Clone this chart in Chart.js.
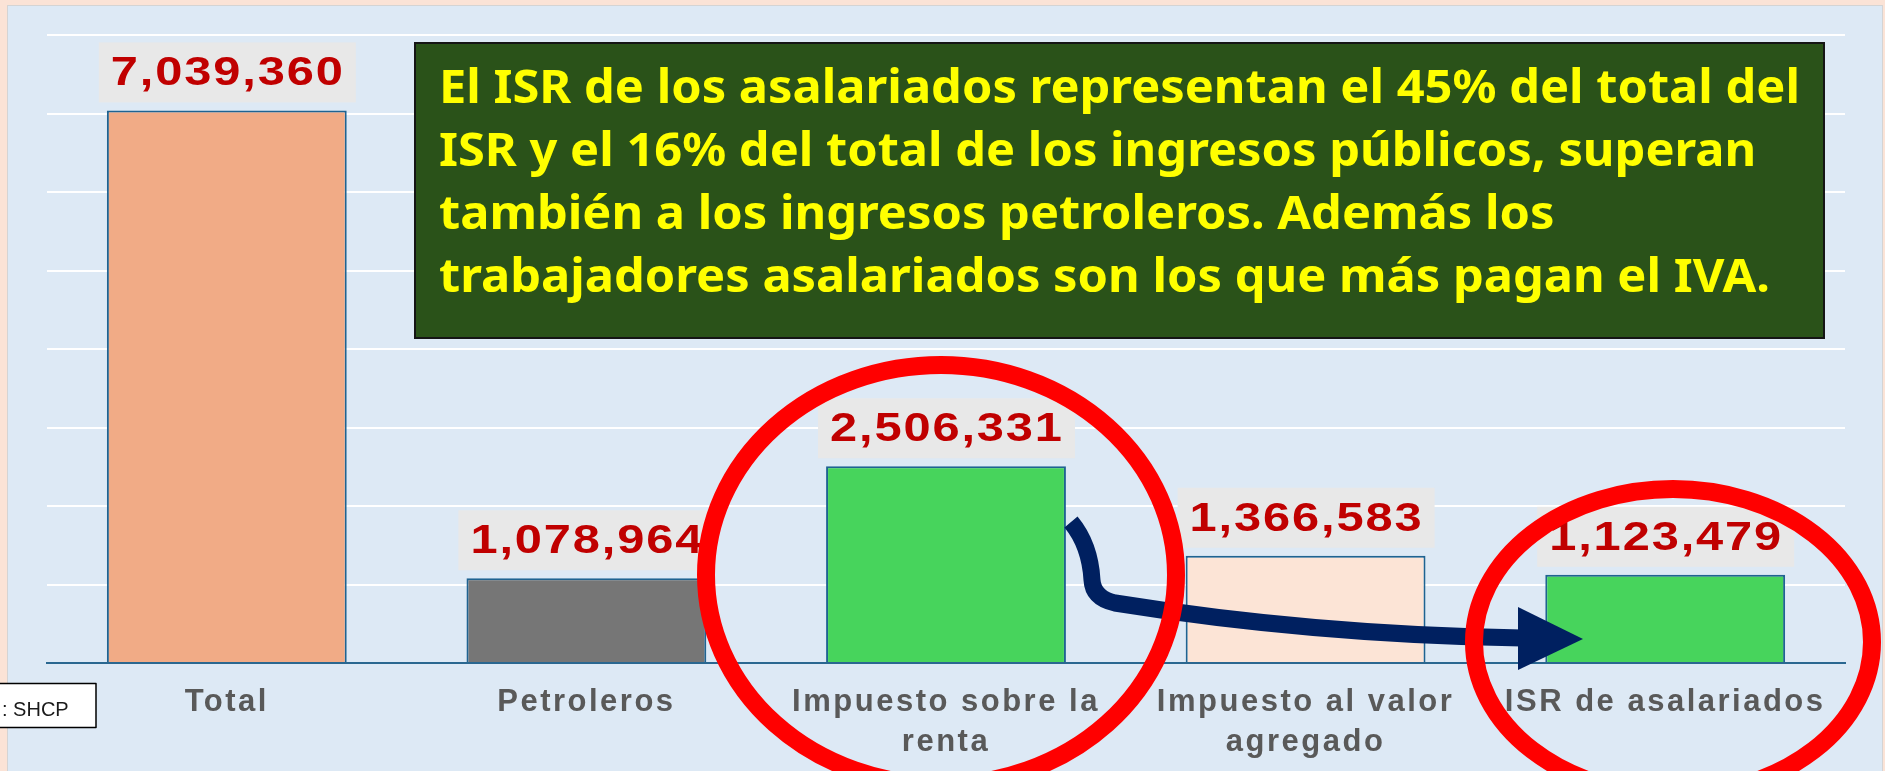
<!DOCTYPE html>
<html>
<head>
<meta charset="utf-8">
<script src="https://cdn.jsdelivr.net/npm/chart.js@4.4.1/dist/chart.umd.min.js"></script>
<style>
  html, body { margin: 0; padding: 0; background: #fbe3d6; }
  canvas { display: block; }
</style>
</head>
<body>
<canvas id="grafica" width="1885" height="771"></canvas>
<script>
// datos (miles de millones de pesos, SHCP)
const categorias = ['Total', 'Petroleros', ['Impuesto sobre la', 'renta'], ['Impuesto al valor', 'agregado'], 'ISR de asalariados'];
const valores = [7039360, 1078964, 2506331, 1366583, 1123479];
const coloresBarra = ['#f1ab86', '#767676', '#47d45c', '#fce4d6', '#47d45c'];
const yMax = 8000000;
const yPaso = 1000000;

const notaLineas = [
  'El ISR de los asalariados representan el 45% del total del',
  'ISR y el 16% del total de los ingresos públicos, superan',
  'también a los ingresos petroleros. Además los',
  'trabajadores asalariados son los que más pagan el IVA.'
];

function textoEspaciado(ctx, txt, cx, y, ancho, sx) {
  // reparte el texto para que ocupe "ancho" px, centrado en cx
  const chars = txt.split('');
  const w = chars.map(c => ctx.measureText(c).width * sx);
  const total = w.reduce((a, b) => a + b, 0);
  const gap = chars.length > 1 ? (ancho - total) / (chars.length - 1) : 0;
  let x = cx - ancho / 2;
  ctx.textAlign = 'left';
  chars.forEach((c, i) => {
    ctx.save();
    ctx.translate(x, y);
    ctx.scale(sx, 1);
    ctx.fillText(c, 0, 0);
    ctx.restore();
    x += w[i] + gap;
  });
}

const fondo = {
  id: 'fondo',
  beforeDraw(chart) {
    const ctx = chart.ctx;
    ctx.save();
    ctx.fillStyle = '#fbe3d6';
    ctx.fillRect(0, 0, chart.width, chart.height);
    ctx.fillStyle = '#dde9f5';
    ctx.fillRect(7, 5, 1876, 766);
    ctx.strokeStyle = '#d4d4d4';
    ctx.lineWidth = 1;
    ctx.strokeRect(7.5, 5.5, 1875, 770);
    ctx.restore();
    try { ctx.letterSpacing = '2.5px'; } catch (e) {}
  },
  beforeDatasetsDraw(chart) {
    try { chart.ctx.letterSpacing = '0px'; } catch (e) {}
  }
};

const etiquetas = {
  id: 'etiquetas',
  afterDatasetsDraw(chart) {
    const ctx = chart.ctx;
    const meta = chart.getDatasetMeta(0);
    ctx.save();
    ctx.font = 'bold 40px "Liberation Sans", Arial, sans-serif';
    meta.data.forEach((bar, i) => {
      const bottom = bar.y - 8;
      const top = bottom - 60;
      ctx.fillStyle = '#e8e8e8';
      ctx.fillRect(bar.x - 128, top, 257, 60);
      ctx.fillStyle = '#c00000';
      ctx.textBaseline = 'alphabetic';
      textoEspaciado(ctx, valores[i].toLocaleString('en-US'), bar.x, top + 43, 232, 1.22);
    });
    ctx.restore();
  },
  afterDraw(chart) {
    const ctx = chart.ctx;
    ctx.save();

    // cuadro de texto
    ctx.fillStyle = '#2a5219';
    ctx.fillRect(415, 43, 1409, 295);
    ctx.strokeStyle = '#151515';
    ctx.lineWidth = 2;
    ctx.strokeRect(415, 43, 1409, 295);
    ctx.fillStyle = '#ffff00';
    ctx.font = 'bold 47px "Noto Sans", "Open Sans", sans-serif';
    ctx.textAlign = 'left';
    ctx.textBaseline = 'alphabetic';
    const escala = 1361 / ctx.measureText(notaLineas[0]).width;
    notaLineas.forEach((l, i) => {
      ctx.save();
      ctx.translate(439, 103 + i * 63);
      ctx.scale(escala, 1);
      ctx.fillText(l, 0, 0);
      ctx.restore();
    });

    // flecha
    ctx.strokeStyle = '#002060';
    ctx.fillStyle = '#002060';
    ctx.lineWidth = 17;
    ctx.lineCap = 'butt';
    ctx.lineJoin = 'round';
    ctx.beginPath();
    ctx.moveTo(1071, 522);
    ctx.quadraticCurveTo(1090, 545, 1092, 580);
    ctx.quadraticCurveTo(1093, 598, 1115, 603);
    ctx.quadraticCurveTo(1315, 635, 1522, 638);
    ctx.stroke();
    ctx.beginPath();
    ctx.moveTo(1518, 607);
    ctx.lineTo(1583, 639);
    ctx.lineTo(1518, 670);
    ctx.closePath();
    ctx.fill();

    // elipses rojas
    ctx.strokeStyle = '#ff0000';
    ctx.lineWidth = 18;
    ctx.beginPath();
    ctx.ellipse(941, 575, 235, 210, 0, 0, Math.PI * 2);
    ctx.stroke();
    ctx.beginPath();
    ctx.ellipse(1673, 642, 199, 153, 0, 0, Math.PI * 2);
    ctx.stroke();

    // fuente
    ctx.fillStyle = '#ffffff';
    ctx.fillRect(-1, 683, 97, 44);
    ctx.strokeStyle = '#000000';
    ctx.lineWidth = 1.5;
    ctx.strokeRect(-1, 683.5, 97, 44);
    ctx.fillStyle = '#1a1a1a';
    ctx.font = '20px "Liberation Sans", Arial, sans-serif';
    ctx.fillText(': SHCP', 2, 716);
    ctx.restore();
  }
};

new Chart(document.getElementById('grafica'), {
  type: 'bar',
  data: {
    labels: categorias,
    datasets: [{
      data: valores,
      backgroundColor: coloresBarra,
      borderColor: '#1f6391',
      borderWidth: 2,
      barPercentage: 0.667,
      categoryPercentage: 1
    }]
  },
  options: {
    responsive: false,
    animation: false,
    events: [],
    layout: { padding: { left: 47, right: 40, top: 35, bottom: 0 } },
    plugins: {
      legend: { display: false },
      tooltip: { enabled: false }
    },
    scales: {
      x: {
        grid: { display: false, drawTicks: false },
        border: { display: true, color: '#2a6790', width: 2 },
        ticks: {
          color: '#595959',
          padding: 19,
          maxRotation: 0,
          autoSkip: false,
          font: { family: '"Liberation Sans", Arial, sans-serif', size: 31, weight: 'bold', lineHeight: 1.3 }
        },
        afterFit(s) { s.height = 108; }
      },
      y: {
        min: 0,
        max: yMax,
        ticks: { display: false, stepSize: yPaso },
        grid: {
          color: c => c.tick && c.tick.value === 0 ? '#2a6790' : '#ffffff',
          lineWidth: 2,
          drawTicks: false
        },
        border: { display: false },
        afterFit(s) { s.width = 0; }
      }
    }
  },
  plugins: [fondo, etiquetas]
});
</script>
</body>
</html>
